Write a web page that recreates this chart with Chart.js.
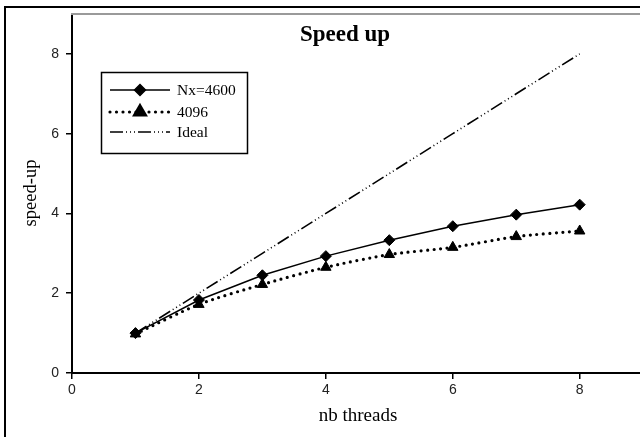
<!DOCTYPE html>
<html><head><meta charset="utf-8">
<script src="https://cdn.jsdelivr.net/npm/chart.js@4/dist/chart.umd.min.js"></script>
<style>html,body{margin:0;padding:0;background:#fff}canvas{display:block}</style>
</head><body>
<canvas id="c" width="640" height="437"></canvas>
<script>
const threads = [1, 2, 3, 4, 5, 6, 7, 8];
const speedNx4600 = [1.0, 1.83, 2.45, 2.93, 3.33, 3.68, 3.97, 4.22];
const speed4096 = [0.98, 1.72, 2.22, 2.65, 2.97, 3.15, 3.42, 3.56];
const speedIdeal = [1, 2, 3, 4, 5, 6, 7, 8];
const xTicks = [0, 2, 4, 6, 8];
const yTicks = [0, 2, 4, 6, 8];
const titleText = 'Speed up';
const xTitle = 'nb threads';
const yTitle = 'speed-up';
const seriesNames = ['Nx=4600', '4096', 'Ideal'];

const pts = (ys) => threads.map((x, i) => ({x, y: ys[i]}));
const serif = '"Liberation Serif", "Times New Roman", serif';

const decor = {
  id: 'decor',
  afterDraw(chart) {
    const ctx = chart.ctx, a = chart.chartArea;
    ctx.save();
    // outer frame
    ctx.strokeStyle = '#000'; ctx.lineWidth = 2;
    ctx.beginPath(); ctx.moveTo(5, 437); ctx.lineTo(5, 7); ctx.lineTo(640, 7); ctx.stroke();
    // top of plot (grey)
    ctx.strokeStyle = '#9a9a9a'; ctx.lineWidth = 2;
    ctx.beginPath(); ctx.moveTo(a.left - 1, a.top); ctx.lineTo(640, a.top); ctx.stroke();
    // title
    ctx.fillStyle = '#000';
    ctx.font = 'bold 23px ' + serif;
    ctx.textAlign = 'center'; ctx.textBaseline = 'middle';
    ctx.fillText(titleText, 345, 35);
    // axis titles
    ctx.font = '19px ' + serif;
    ctx.fillText(xTitle, 358, 416);
    ctx.font = '18.5px ' + serif;
    ctx.save(); ctx.translate(31, 193); ctx.rotate(-Math.PI / 2);
    ctx.fillText(yTitle, 0, 0); ctx.restore();
    // legend box
    ctx.strokeStyle = '#000'; ctx.lineWidth = 1.5;
    ctx.strokeRect(101.5, 72.5, 146, 81);
    const rows = [90, 112, 132];
    chart.data.datasets.forEach((ds, i) => {
      const y = rows[i];
      ctx.save();
      ctx.strokeStyle = '#000';
      ctx.lineWidth = ds.borderWidth;
      ctx.lineCap = ds.borderCapStyle || 'butt';
      ctx.setLineDash(ds.borderDash || []);
      ctx.beginPath(); ctx.moveTo(110, y); ctx.lineTo(170, y); ctx.stroke();
      ctx.setLineDash([]);
      if (ds.pointRadius > 0) {
        Chart.helpers.drawPoint(ctx, {pointStyle: ds.pointStyle, radius: ds.pointRadius, borderWidth: 1}, 140, y);
      }
      ctx.restore();
      ctx.fillStyle = '#000';
      ctx.font = '15.5px ' + serif;
      ctx.textAlign = 'left'; ctx.textBaseline = 'middle';
      ctx.fillText(ds.label, 177, y + 1);
    });
    ctx.restore();
  }
};

new Chart(document.getElementById('c'), {
  type: 'line',
  data: {
    datasets: [
      {label: seriesNames[0], data: pts(speedNx4600), borderColor: '#000', backgroundColor: '#000',
       borderWidth: 1.5, pointStyle: 'rectRot', pointRadius: 5.5, pointBorderWidth: 1, tension: 0},
      {label: seriesNames[1], data: pts(speed4096), borderColor: '#000', backgroundColor: '#000',
       borderWidth: 3.2, borderDash: [0, 6.5], borderCapStyle: 'round', pointStyle: 'triangle', pointRadius: 6, pointBorderWidth: 1, tension: 0.25},
      {label: seriesNames[2], data: pts(speedIdeal), borderColor: '#000', backgroundColor: '#000',
       borderWidth: 1.6, borderDash: [13, 3, 1, 3, 1, 3, 1, 3], pointRadius: 0, tension: 0}
    ]
  },
  options: {
    responsive: false, animation: false, devicePixelRatio: 1,
    layout: {autoPadding: false, padding: {left: 0, top: 14, right: 0, bottom: 0}},
    plugins: {legend: {display: false}, title: {display: false}, tooltip: {enabled: false}},
    scales: {
      x: {
        type: 'linear', min: 0, max: 8.95,
        afterBuildTicks: s => { s.ticks = xTicks.map(v => ({value: v})); },
        afterFit: s => { s.height = 64; s.paddingRight = 0; s.paddingLeft = 0; },
        grid: {display: true, drawOnChartArea: false, drawTicks: true, tickLength: 6, color: '#000', lineWidth: 1.5},
        border: {display: true, color: '#000', width: 2},
        ticks: {color: '#222', font: {family: '"Liberation Sans", Arial, sans-serif', size: 14}, padding: 3, maxRotation: 0}
      },
      y: {
        type: 'linear', min: 0, max: 9,
        afterBuildTicks: s => { s.ticks = yTicks.map(v => ({value: v})); },
        afterFit: s => { s.width = 72; s.paddingTop = 0; s.paddingBottom = 0; },
        grid: {display: true, drawOnChartArea: false, drawTicks: true, tickLength: 6, color: '#000', lineWidth: 1.5},
        border: {display: true, color: '#000', width: 2},
        ticks: {color: '#222', font: {family: '"Liberation Sans", Arial, sans-serif', size: 14}, padding: 7}
      }
    }
  },
  plugins: [decor]
});
</script>
</body></html>
